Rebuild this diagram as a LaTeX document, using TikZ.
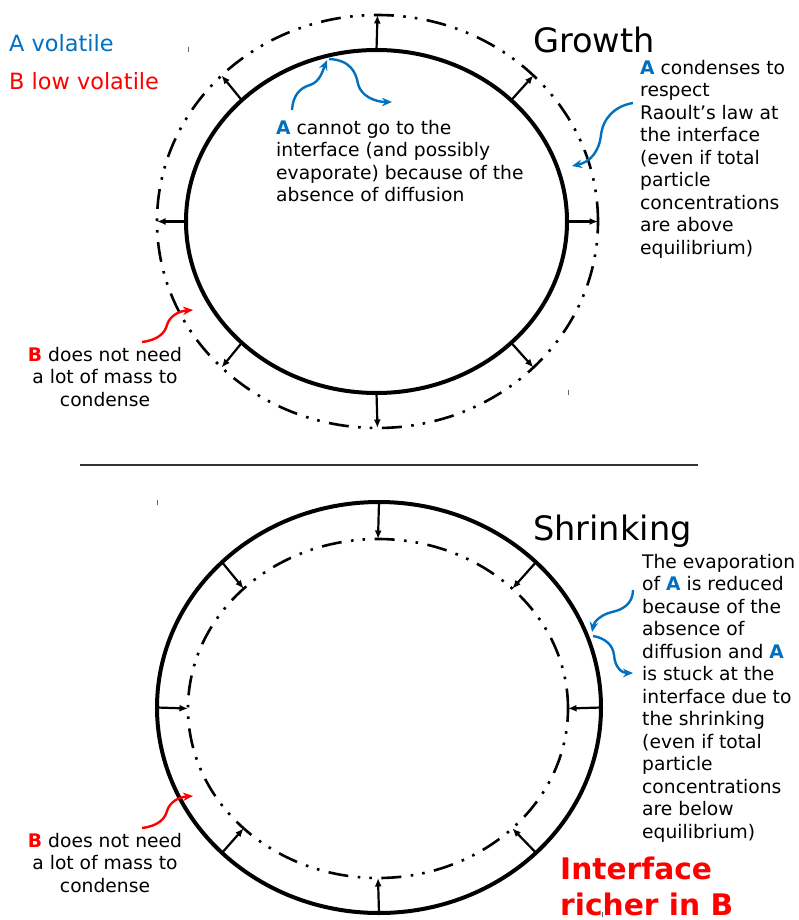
\documentclass[tikz,border=0pt]{standalone}
\usepackage{fontspec}
\setmainfont{DejaVu Sans}
\usetikzlibrary{arrows.meta,calc}
\definecolor{ablue}{RGB}{0,112,192}
\definecolor{bred}{RGB}{255,0,0}
\newcommand{\Ab}{{\bfseries\color{ablue}A}}
\newcommand{\Bb}{{\bfseries\color{bred}B}}
\begin{document}
\begin{tikzpicture}[x=1pt,y=-1pt,
  solidring/.style={line width=4pt},
  dashring/.style={line width=2.6pt, dash pattern=on 20pt off 9.5pt on 2.6pt off 9pt on 2.6pt off 9.5pt},
  radial/.style={line width=2.2pt,-{Latex[length=8.5pt,width=7pt]}},
  wavy/.style={line width=2.4pt,-{Stealth[length=10pt,width=8.5pt]}},
  body/.style={inner sep=0pt, font=\fontsize{18.7}{22.5}\selectfont, text=black},
  legend/.style={inner sep=0pt, anchor=base west, font=\fontsize{22.4}{27}\selectfont},
  title/.style={inner sep=0pt, anchor=base west, font=\fontsize{33.6}{40}\selectfont, text=black},
  tick/.style={line width=0.6pt, black!60},
]
\useasboundingbox (0,0) rectangle (798,920);

% legend
\node[legend, text=ablue] (la) at (9,52) {A volatile};
\node[legend, text=bred] (lb) at (9,90) {B low volatile};

% ---------- Growth ----------
\coordinate (gi) at (376.5,221.5);
\coordinate (go) at (377.5,221.5);
\draw[solidring] (gi) ellipse [x radius=190.5pt, y radius=171.5pt];
\draw[dashring] (go) ellipse [x radius=220.5pt, y radius=206.5pt];
\foreach \t in {0,45,...,315}{
  \coordinate (gin\t) at ($(gi)+(\t:190.5pt and 171.5pt)$);
  \coordinate (gout\t) at ($(go)+(\t:220.5pt and 206.5pt)$);
  \draw[radial] (gin\t) -- (gout\t);
}
\draw[tick] (188,47) -- (188,52);
\draw[tick] (568,390) -- (568,395);

\node[title] (growth) at (533,53) {Growth};

\node[body, anchor=north west, align=left] (tr) at (640,58.25)
 {\strut\Ab\ condenses to\\respect\\Raoult’s law at\\the interface\\(even if total\\particle\\concentrations\\are above\\equilibrium)};

\node[body, anchor=north west, align=left] (tm) at (276,118.25)
 {\strut\Ab\ cannot go to the\\interface (and possibly\\evaporate) because of the\\absence of diffusion};

\node[body, anchor=north, align=center] (tbl) at (105,345.25)
 {\strut\Bb\ does not need\\a lot of mass to\\condense};

% curvy arrows (growth)
\coordinate (b1s) at (292,110);
\coordinate (b1e) at (327,60);
\draw[wavy, ablue] (b1s) .. controls (293,95) and (300,88) .. (310,85)
  .. controls (320,82) and (323,70) .. (b1e);
\coordinate (b2s) at (329,59);
\coordinate (b2e) at (392,102);
\draw[wavy, ablue] (b2s) .. controls (350,60) and (356,72) .. (358,84)
  .. controls (361,96) and (375,102) .. (b2e);
\coordinate (b3s) at (633,103);
\coordinate (b3e) at (572,166);
\draw[wavy, ablue] (b3s) .. controls (615,106) and (603,118) .. (601,135)
  .. controls (599,152) and (590,162) .. (b3e);
\coordinate (r1s) at (142,342);
\coordinate (r1e) at (193,310);
\draw[wavy, bred] (r1s) .. controls (158,340) and (165,333) .. (167,325)
  .. controls (170,315) and (180,311) .. (r1e);

% separator
\coordinate (sepL) at (80,465);
\coordinate (sepR) at (698,465);
\draw[line width=1.5pt, black!80] (sepL) -- (sepR);

% ---------- Shrinking ----------
\coordinate (si) at (379,707.5);
\coordinate (so) at (378,708.5);
\draw[solidring] (si) ellipse [x radius=222pt, y radius=205.5pt];
\draw[dashring] (so) ellipse [x radius=190pt, y radius=169.5pt];
\foreach \t in {0,45,...,315}{
  \coordinate (sin\t) at ($(si)+(\t:222pt and 205.5pt)$);
  \coordinate (sout\t) at ($(so)+(\t:190pt and 169.5pt)$);
  \draw[radial] (sin\t) -- (sout\t);
}
\draw[tick] (157,500) -- (157,505);
\draw[tick] (602,912) -- (602,917);

\node[title] (shrink) at (533,540) {Shrinking};

\node[body, anchor=north west, align=left] (br) at (642,552.25)
 {\strut The evaporation\\of \Ab\ is reduced\\because of the\\absence of\\diffusion and \Ab\\is stuck at the\\interface due to\\the shrinking\\(even if total\\particle\\concentrations\\are below\\equilibrium)};

\node[body, anchor=north, align=center] (bbl) at (105,831.25)
 {\strut\Bb\ does not need\\a lot of mass to\\condense};

\node[inner sep=0pt, anchor=north west, align=left, text=bred,
      font=\fontsize{29.7}{35.5}\selectfont\bfseries] (rich) at (560,854.8)
 {\strut Interface\\richer in B};

\coordinate (b4s) at (633,590);
\coordinate (b4e) at (592,632);
\draw[wavy, ablue] (b4s) .. controls (633,604) and (622,610) .. (612,612)
  .. controls (600,615) and (594,622) .. (b4e);
\coordinate (b5s) at (593,636);
\coordinate (b5e) at (633,673);
\draw[wavy, ablue] (b5s) .. controls (605,638) and (613,645) .. (614,655)
  .. controls (615,668) and (622,673) .. (b5e);
\coordinate (r2s) at (142,828);
\coordinate (r2e) at (193,796);
\draw[wavy, bred] (r2s) .. controls (158,826) and (165,819) .. (167,811)
  .. controls (170,801) and (180,797) .. (r2e);
\end{tikzpicture}
\end{document}
